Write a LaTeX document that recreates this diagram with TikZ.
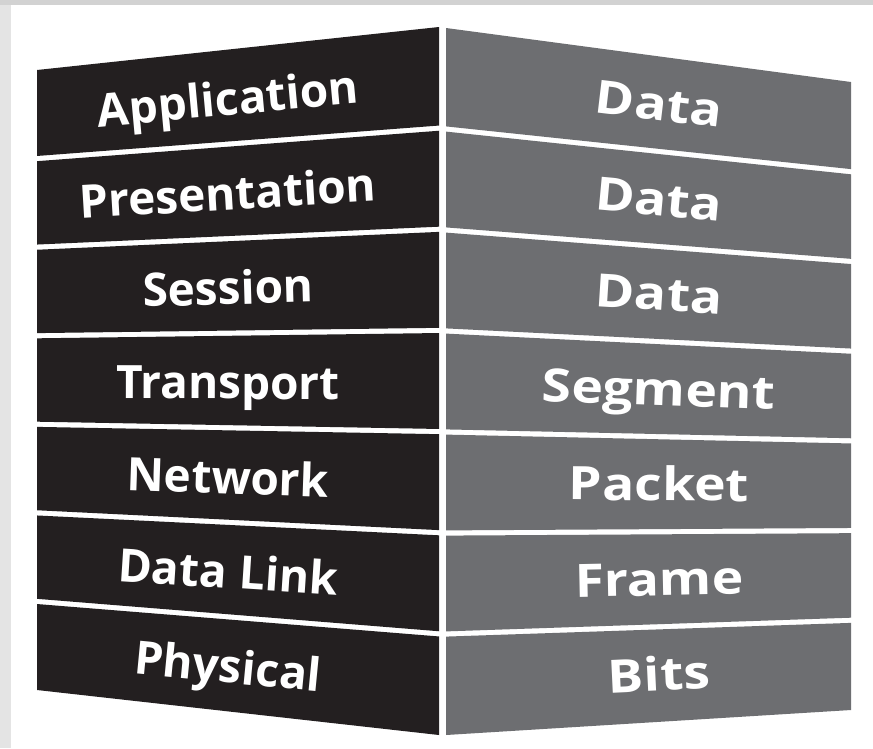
\documentclass[tikz,border=0pt]{standalone}
\usepackage{fontspec}
\newfontfamily\layerfont{Open Sans}
\newfontfamily\unitfont{Open Sans}[FakeStretch=1.16]
\definecolor{darkface}{HTML}{231F20}
\definecolor{greyface}{HTML}{6D6E71}
\definecolor{topstrip}{HTML}{D2D2D2}
\definecolor{sidestrip}{HTML}{E4E4E4}
\tikzset{
  layertext/.style={text=white, font=\layerfont\bfseries\fontsize{46}{48}\selectfont,
    inner sep=0pt, text height=32.8pt, text depth=0pt, anchor=center},
  unittext/.style={layertext, font=\unitfont\bfseries\fontsize{46}{48}\selectfont},
}
\begin{document}
\begin{tikzpicture}[x=1pt,y=-1pt]
\useasboundingbox (0,0) rectangle (873,748);
% page frame
\fill[white] (0,0) rectangle (873,748);
\fill[topstrip] (0,0) rectangle (873,4.5);
\fill[sidestrip] (0,4.5) rectangle (11,748);
% seven layers: left face (layer names), right face (data units)
\foreach \k/\ltext/\rtext in {1/Application/Data, 2/Presentation/Data, 3/Session/Data,
    4/Transport/Segment, 5/Network/Packet, 6/Data Link/Frame, 7/Physical/Bits}{
  \pgfmathsetmacro\ta{(\k-1)/7}
  \pgfmathsetmacro\tb{\k/7}
  \pgfmathsetmacro\tm{(\k-0.5)/7}
  \pgfmathsetmacro\ga{\k==1 ? 0 : 2.6}
  \pgfmathsetmacro\gb{\k==7 ? 0 : 2.6}
  \fill[darkface] (37,{70+620*\ta+\ga}) -- (439,{27+708*\ta+\ga})
    -- (439,{27+708*\tb-\gb}) -- (37,{70+620*\tb-\gb}) -- cycle;
  \fill[greyface] (446,{28+707*\ta+\ga}) -- (851,{82+628*\ta+\ga})
    -- (851,{82+628*\tb-\gb}) -- (446,{28+707*\tb-\gb}) -- cycle;
  \pgfmathsetmacro\lang{-atan((-43+88*\tm)/402)}
  \pgfmathsetmacro\rang{-atan((54-79*\tm)/405)}
  \node[layertext, rotate=\lang] (L\k) at (228,{51.5+662.2*\tm}) {\ltext};
  \node[unittext, rotate=\rang] (R\k) at (659,{56.3+665.6*\tm}) {\rtext};
}
\end{tikzpicture}
\end{document}
